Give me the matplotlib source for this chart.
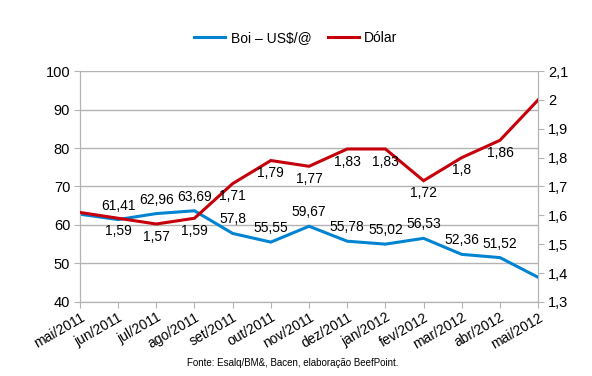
import matplotlib
matplotlib.use("Agg")
import matplotlib.pyplot as plt
from matplotlib.ticker import FuncFormatter

plt.rcParams['font.family'] = ['Liberation Sans', 'DejaVu Sans']

months = ["mai/2011", "jun/2011", "jul/2011", "ago/2011", "set/2011", "out/2011",
          "nov/2011", "dez/2011", "jan/2012", "fev/2012", "mar/2012", "abr/2012", "mai/2012"]
boi = [62.8, 61.41, 62.96, 63.69, 57.8, 55.55, 59.67, 55.78, 55.02, 56.53, 52.36, 51.52, 46.4]
dolar = [1.61, 1.59, 1.57, 1.59, 1.71, 1.79, 1.77, 1.83, 1.83, 1.72, 1.8, 1.86, 2.0]
boi_labeled = [False] + [True] * 11 + [False]
dolar_labeled = [False] + [True] * 11 + [False]

left_ticks = [40, 50, 60, 70, 80, 90, 100]
right_ticks = [1.3, 1.4, 1.5, 1.6, 1.7, 1.8, 1.9, 2.0, 2.1]

BLUE = "#0084d1"
RED = "#c5000b"
GRID = "#b3b3b3"

fig = plt.figure(figsize=(5.92, 3.76), dpi=100)
ax = fig.add_axes([0.135, 0.197, 0.774, 0.614])
ax2 = ax.twinx()

x = list(range(len(months)))
ax.plot(x, boi, color=BLUE, lw=2.2, solid_joinstyle='miter', zorder=3)
ax2.plot(x, dolar, color=RED, lw=2.2, solid_joinstyle='miter', zorder=3)

ax.set_xlim(0, len(months) - 1)
ax.set_ylim(40, 100)
ax2.set_ylim(1.3, 2.1)
ax.set_yticks(left_ticks)
ax2.set_yticks(right_ticks)

def comma(v, pos):
    s = ("%.1f" % v).rstrip('0').rstrip('.')
    return s.replace('.', ',')

ax2.yaxis.set_major_formatter(FuncFormatter(comma))

ax.set_xticks(x)
ax.set_xticklabels(months, rotation=30, ha='right', rotation_mode='anchor', fontsize=10)
ax.tick_params(axis='x', length=4, color=GRID, pad=2)
ax.tick_params(axis='y', length=4, color=GRID, labelsize=10.5, pad=3)
ax2.tick_params(axis='y', length=4, color=GRID, labelsize=10.5, pad=3)

ax.yaxis.grid(True, color=GRID, lw=1)
ax.set_axisbelow(True)
for a in (ax, ax2):
    for s in ('left', 'right', 'bottom'):
        a.spines[s].set_color(GRID)
    a.spines['top'].set_visible(False)

def fmt(v):
    return ("%.2f" % v).rstrip('0').rstrip('.').replace('.', ',')

for i, (v, show) in enumerate(zip(boi, boi_labeled)):
    if show:
        ax.annotate(fmt(v), (i, v), xytext=(0, 5), textcoords='offset points',
                    ha='center', va='bottom', fontsize=10, zorder=5)
for i, (v, show) in enumerate(zip(dolar, dolar_labeled)):
    if show:
        ax2.annotate(fmt(v), (i, v), xytext=(0, -4), textcoords='offset points',
                     ha='center', va='top', fontsize=10, zorder=5)

from matplotlib.lines import Line2D
handles = [Line2D([], [], color=BLUE, lw=2.2), Line2D([], [], color=RED, lw=2.2)]
fig.legend(handles, ["Boi – US$/@", "Dólar"], loc='center', bbox_to_anchor=(0.5, 0.9),
           ncol=2, frameon=False, fontsize=10, handlelength=2.2, handletextpad=0.4,
           columnspacing=1.2)

fig.text(0.495, 0.035, "Fonte: Esalq/BM&, Bacen, elaboração BeefPoint.", ha='center',
         va='center', fontsize=7)

fig.savefig("out.png", dpi=100)
